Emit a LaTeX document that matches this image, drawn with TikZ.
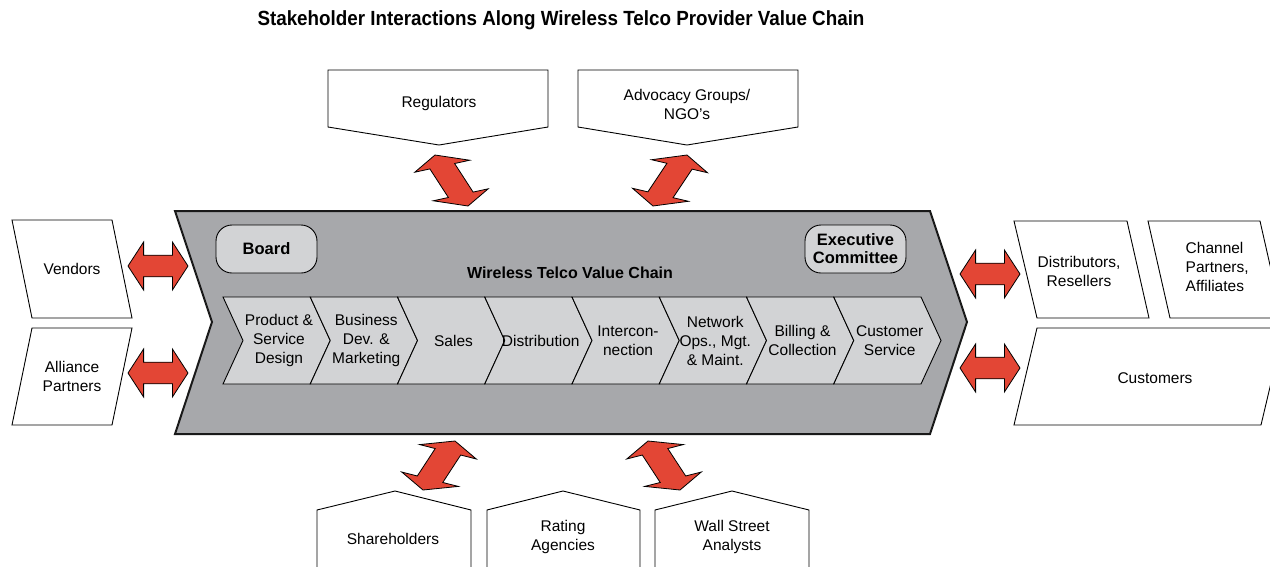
\documentclass[tikz,border=0pt]{standalone}
\usepackage{fontspec}
\setmainfont{Liberation Sans}
\usetikzlibrary{calc}
\definecolor{chaingray}{RGB}{167,168,171}
\definecolor{seggray}{RGB}{210,211,213}
\definecolor{arrowred}{RGB}{227,70,53}
\tikzset{
  lbl/.style={align=center, font=\fontsize{15.5}{19}\selectfont, inner sep=0pt},
  stakebox/.style={draw=black, line width=0.9pt, fill=white, line join=miter},
  chainbox/.style={draw=black!90, line width=2pt, fill=chaingray, line join=miter},
  segbox/.style={draw=black, line width=0.9pt, fill=seggray, line join=miter},
  govbox/.style={draw=black, line width=0.9pt, fill=seggray, rounded corners=16pt,
    minimum width=101pt, minimum height=48pt, inner sep=0pt, align=center,
    font=\fontsize{16.5}{20}\selectfont\bfseries},
  fatarrowstyle/.style={draw=black, line width=0.8pt, fill=arrowred, line join=miter},
}
% #1,#2 tips; #3,#4 half head vector; #5 head fraction
\newcommand\fatarrow[5]{%
  \pgfmathsetmacro\fa{#5}\pgfmathsetmacro\fb{1-#5}%
  \filldraw[fatarrowstyle] (#1)
  -- ($(#1)!\fa!(#2)+(#3,#4)$)
  -- ($(#1)!\fa!(#2)+0.45*(#3,#4)$)
  -- ($(#1)!\fb!(#2)+0.45*(#3,#4)$)
  -- ($(#1)!\fb!(#2)+(#3,#4)$)
  -- (#2)
  -- ($(#1)!\fb!(#2)-(#3,#4)$)
  -- ($(#1)!\fb!(#2)-0.45*(#3,#4)$)
  -- ($(#1)!\fa!(#2)-0.45*(#3,#4)$)
  -- ($(#1)!\fa!(#2)-(#3,#4)$)
  -- cycle;}
\begin{document}
\begin{tikzpicture}[x=1pt,y=-1pt]
\useasboundingbox (0,0) rectangle (1270,566);
\clip (0,0) rectangle (1270,566);

% title
\node[inner sep=0pt] (title) at (561,20)
  {\resizebox{607pt}{\height}{\fontsize{20.5}{24}\selectfont\bfseries Stakeholder Interactions Along Wireless Telco Provider Value Chain}};

% main chevron
\draw[chainbox] (175,211) -- (930,211) -- (967,322) -- (930,434) -- (175,434) -- (212,322) -- cycle;
\node[align=center, inner sep=0pt, font=\fontsize{16}{19}\selectfont\bfseries] (vc) at (570,273) {Wireless Telco Value Chain};
\node[govbox] (board) at (266.5,249) {Board};
\node[govbox] (exec) at (855.5,249) {Executive\\[-2pt]Committee};

% value chain segments
\foreach \i/\t in {0/{Product \&\\Service\\Design},1/{Business\\Dev. \&\\Marketing},2/{Sales},3/{Distribution},4/{Intercon-\\nection},5/{Network\\Ops., Mgt.\\\& Maint.},6/{Billing \&\\Collection},7/{Customer\\Service}}{
  \pgfmathsetmacro\xa{223+87.25*\i}
  \draw[segbox] (\xa,297) -- ++(87.25,0) -- ++(20,43.5) -- ++(-20,43.5) -- ++(-87.25,0) -- ++(20,-43.5) -- cycle;
  \node[lbl] (seg\i) at (\xa+56,340.5) {\t};
}

% left stakeholders
\draw[stakebox] (12,220) -- (112,220) -- (132,318) -- (32,318) -- cycle;
\node[lbl] (vendors) at (72,269) {Vendors};
\draw[stakebox] (32,328) -- (132,328) -- (112,425) -- (12,425) -- cycle;
\node[lbl] (alliance) at (72,376) {Alliance\\Partners};

% right stakeholders
\draw[stakebox] (1014,221) -- (1127,221) -- (1149,318) -- (1037,318) -- cycle;
\node[lbl] (distrib) at (1079,271) {Distributors,\\Resellers};
\draw[stakebox] (1148,221) -- (1260,221) -- (1282,318) -- (1170,318) -- cycle;
\node[lbl, align=left, anchor=west] (channel) at (1185.5,267) {Channel\\Partners,\\Affiliates};
\draw[stakebox] (1037,328) -- (1284,328) -- (1261,425) -- (1014,425) -- cycle;
\node[lbl] (customers) at (1155,378) {Customers};

% top stakeholders
\draw[stakebox] (328,70) -- (548,70) -- (548,127) -- (439,145) -- (328,127) -- cycle;
\node[lbl] (regulators) at (439,103) {Regulators};
\draw[stakebox] (578,70) -- (798,70) -- (798,127) -- (687,145) -- (578,127) -- cycle;
\node[lbl] (advocacy) at (687,104) {Advocacy Groups/\\NGO's};

% bottom stakeholders
\draw[stakebox] (317,580) -- (317,510) -- (395,491) -- (471,510) -- (471,580);
\node[lbl] (share) at (393,539) {Shareholders};
\draw[stakebox] (487,580) -- (487,510) -- (563,491) -- (640,510) -- (640,580);
\node[lbl] (rating) at (563,537) {Rating\\Agencies};
\draw[stakebox] (655,580) -- (655,510) -- (732,491) -- (809,510) -- (809,580);
\node[lbl] (wall) at (732,537) {Wall Street\\Analysts};

% arrow end points
\coordinate (vA) at (128,266);  \coordinate (vB) at (188,266);
\coordinate (aA) at (128,373);  \coordinate (aB) at (188,373);
\coordinate (dA) at (960,274);  \coordinate (dB) at (1020,274);
\coordinate (cA) at (960,368);  \coordinate (cB) at (1020,368);
\coordinate (rA) at (435,155);  \coordinate (rB) at (468,206);
\coordinate (nA) at (687,155);  \coordinate (nB) at (653,206);
\coordinate (sA) at (455,441);  \coordinate (sB) at (423,490);
\coordinate (wA) at (648,441);  \coordinate (wB) at (680,490);

\fatarrow{vA}{vB}{0}{24}{0.26}
\fatarrow{aA}{aB}{0}{24}{0.26}
\fatarrow{dA}{dB}{0}{24}{0.26}
\fatarrow{cA}{cB}{0}{24}{0.26}
\fatarrow{rA}{rB}{27.5}{-6}{0.22}
\fatarrow{nA}{nB}{28}{6.5}{0.22}
\fatarrow{sA}{sB}{28.3}{7.2}{0.22}
\fatarrow{wA}{wB}{28.3}{-7.2}{0.22}
\end{tikzpicture}
\end{document}
